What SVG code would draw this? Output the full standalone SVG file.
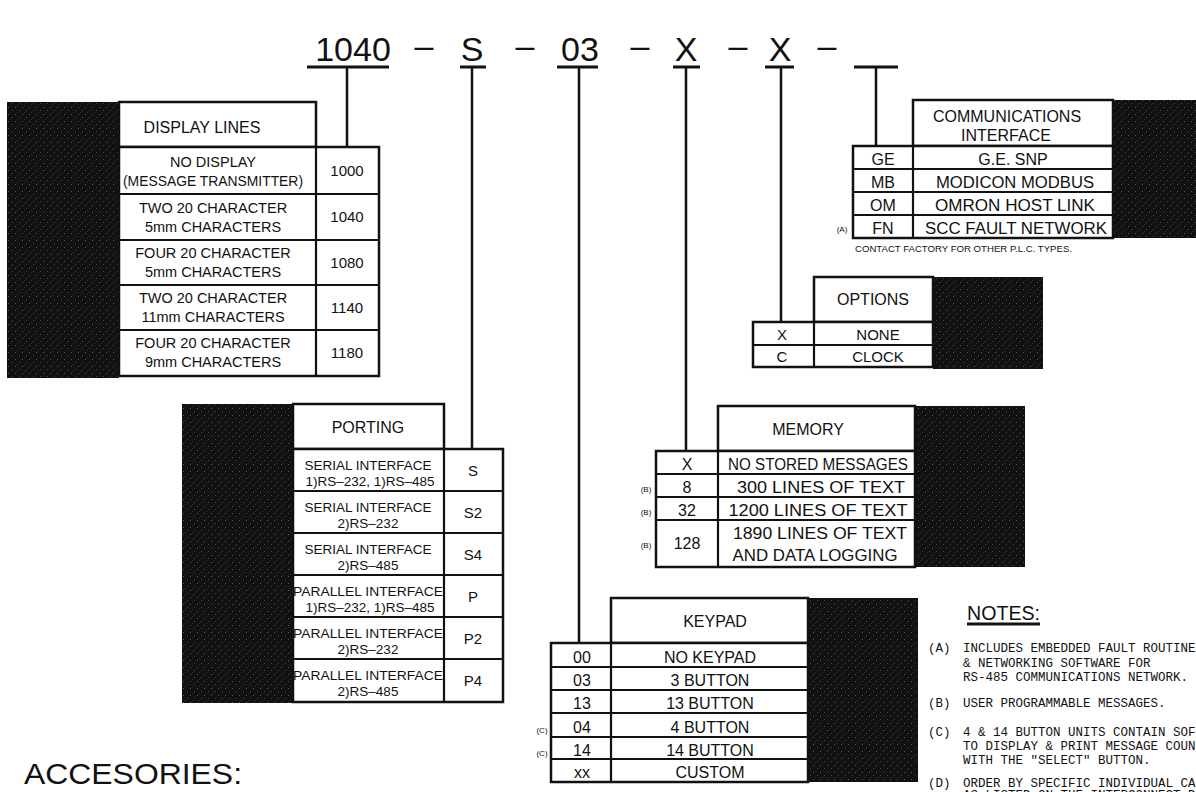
<svg xmlns="http://www.w3.org/2000/svg" width="1196" height="792" viewBox="0 0 1196 792">
<defs>
<pattern id="speck" width="7" height="7" patternUnits="userSpaceOnUse">
<rect width="7" height="7" fill="#111"/>
<rect x="1" y="2" width="1" height="1" fill="#5a5a5a"/>
<rect x="5" y="5" width="1" height="1" fill="#444"/>
<rect x="3" y="0" width="1" height="1" fill="#333"/>
</pattern>
</defs>
<style>
.blk{fill:url(#speck);}
.box{fill:#fff;stroke:#111;stroke-width:2.5;}
.ln{stroke:#111;stroke-width:2.2;fill:none;}
.stem{stroke:#111;stroke-width:2.5;fill:none;}
.ul{stroke:#111;stroke-width:3;}
text{font-family:"Liberation Sans",Arial,sans-serif;fill:#111;}
.t{font-size:15px;text-anchor:middle;}
.td{font-size:14.5px;text-anchor:middle;}
.tp{font-size:13.5px;text-anchor:middle;}
.ttl{font-size:34px;text-anchor:middle;}
.sm{font-size:8px;text-anchor:middle;}
.note{font-family:"Liberation Mono","Courier New",monospace;font-size:12.5px;}
</style>
<rect width="1196" height="792" fill="#fff"/>

<g id="title">
<text class="ttl" x="353" y="61">1040</text>
<text class="ttl" x="424" y="57">–</text>
<text class="ttl" x="472" y="61">S</text>
<text class="ttl" x="525" y="57">–</text>
<text class="ttl" x="580" y="61">03</text>
<text class="ttl" x="640" y="57">–</text>
<text class="ttl" x="686" y="61">X</text>
<text class="ttl" x="738" y="57">–</text>
<text class="ttl" x="780" y="61">X</text>
<text class="ttl" x="827" y="57">–</text>
<line class="ul" x1="307" y1="67" x2="389" y2="67"/>
<line class="ul" x1="460" y1="67" x2="486" y2="67"/>
<line class="ul" x1="557" y1="67" x2="598" y2="67"/>
<line class="ul" x1="673" y1="67" x2="700" y2="67"/>
<line class="ul" x1="765" y1="67" x2="794" y2="67"/>
<line class="ul" x1="854" y1="67" x2="898" y2="67"/>
</g>

<g id="connectors">
<line class="stem" x1="347" y1="67" x2="347" y2="147"/>
<line class="stem" x1="472" y1="67" x2="472" y2="449"/>
<line class="stem" x1="579" y1="67" x2="579" y2="643"/>
<line class="stem" x1="686" y1="67" x2="686" y2="451"/>
<line class="stem" x1="781" y1="67" x2="781" y2="322"/>
<line class="stem" x1="876" y1="67" x2="876" y2="146"/>
</g>

<g id="display-lines">
<rect class="blk" x="7" y="102" width="112" height="276"/>
<rect class="box" x="119" y="102" width="197" height="45"/>
<rect class="box" x="119" y="147" width="260" height="229"/>
<line class="ln" x1="316" y1="147" x2="316" y2="376"/>
<line class="ln" x1="119" y1="194" x2="379" y2="194"/>
<line class="ln" x1="119" y1="240" x2="379" y2="240"/>
<line class="ln" x1="119" y1="285" x2="379" y2="285"/>
<line class="ln" x1="119" y1="330" x2="379" y2="330"/>
<text class="t" x="202" y="133" style="font-size:16px">DISPLAY LINES</text>
<text class="td" x="213" y="167">NO DISPLAY</text>
<text class="td" x="213" y="186" textLength="180" lengthAdjust="spacingAndGlyphs">(MESSAGE TRANSMITTER)</text>
<text class="td" x="213" y="213">TWO 20 CHARACTER</text>
<text class="td" x="213" y="232">5mm CHARACTERS</text>
<text class="td" x="213" y="258">FOUR 20 CHARACTER</text>
<text class="td" x="213" y="277">5mm CHARACTERS</text>
<text class="td" x="213" y="303">TWO 20 CHARACTER</text>
<text class="td" x="213" y="322">11mm CHARACTERS</text>
<text class="td" x="213" y="348">FOUR 20 CHARACTER</text>
<text class="td" x="213" y="367">9mm CHARACTERS</text>
<text class="t" x="347" y="176">1000</text>
<text class="t" x="347" y="222">1040</text>
<text class="t" x="347" y="268">1080</text>
<text class="t" x="347" y="313">1140</text>
<text class="t" x="347" y="358">1180</text>
</g>

<g id="communications">
<rect class="blk" x="1113" y="100" width="90" height="138"/>
<rect class="box" x="913" y="100" width="200" height="46"/>
<rect class="box" x="853" y="146" width="260" height="92"/>
<line class="ln" x1="913" y1="146" x2="913" y2="238"/>
<line class="ln" x1="853" y1="169" x2="1113" y2="169"/>
<line class="ln" x1="853" y1="192" x2="1113" y2="192"/>
<line class="ln" x1="853" y1="215" x2="1113" y2="215"/>
<text class="t" x="1007" y="122" style="font-size:16px">COMMUNICATIONS</text>
<text class="t" x="1006" y="141" style="font-size:16px">INTERFACE</text>
<text class="t" x="883" y="165" style="font-size:16px">GE</text>
<text class="t" x="883" y="188" style="font-size:16px">MB</text>
<text class="t" x="883" y="211" style="font-size:16px">OM</text>
<text class="t" x="883" y="234" style="font-size:16px">FN</text>
<text class="t" x="1013" y="165" style="font-size:16px">G.E. SNP</text>
<text class="t" x="1015" y="188" style="font-size:16px" textLength="158" lengthAdjust="spacingAndGlyphs">MODICON MODBUS</text>
<text class="t" x="1015" y="211" style="font-size:16px" textLength="160" lengthAdjust="spacingAndGlyphs">OMRON HOST LINK</text>
<text class="t" x="1016" y="234" style="font-size:16px" textLength="182" lengthAdjust="spacingAndGlyphs">SCC FAULT NETWORK</text>
<text class="sm" x="842" y="232">(A)</text>
<text x="855" y="252" style="font-size:8.5px" textLength="217" lengthAdjust="spacingAndGlyphs">CONTACT FACTORY FOR OTHER P.L.C. TYPES.</text>
</g>

<g id="options">
<rect class="blk" x="933" y="277" width="110" height="92"/>
<rect class="box" x="814" y="277" width="119" height="45"/>
<rect class="box" x="753" y="322" width="180" height="45"/>
<line class="ln" x1="814" y1="322" x2="814" y2="367"/>
<line class="ln" x1="753" y1="345" x2="933" y2="345"/>
<text class="t" x="873" y="305" style="font-size:16px">OPTIONS</text>
<text class="t" x="782" y="340">X</text>
<text class="t" x="878" y="340">NONE</text>
<text class="t" x="782" y="362">C</text>
<text class="t" x="878" y="362">CLOCK</text>
</g>

<g id="memory">
<rect class="blk" x="915" y="406" width="110" height="161"/>
<rect class="box" x="718" y="406" width="197" height="45"/>
<rect class="box" x="656" y="451" width="259" height="116"/>
<line class="ln" x1="718" y1="451" x2="718" y2="567"/>
<line class="ln" x1="656" y1="474" x2="915" y2="474"/>
<line class="ln" x1="656" y1="497" x2="915" y2="497"/>
<line class="ln" x1="656" y1="520" x2="915" y2="520"/>
<text class="t" x="808" y="435" style="font-size:16px">MEMORY</text>
<text class="t" x="687" y="470" style="font-size:16px">X</text>
<text class="t" x="687" y="493" style="font-size:16px">8</text>
<text class="t" x="687" y="516" style="font-size:16px">32</text>
<text class="t" x="687" y="549" style="font-size:16px">128</text>
<text class="t" x="818" y="470" style="font-size:16px" textLength="180" lengthAdjust="spacingAndGlyphs">NO STORED MESSAGES</text>
<text class="t" x="821" y="493" style="font-size:16px" textLength="168" lengthAdjust="spacingAndGlyphs">300 LINES OF TEXT</text>
<text class="t" x="818" y="516" style="font-size:16px" textLength="179" lengthAdjust="spacingAndGlyphs">1200 LINES OF TEXT</text>
<text class="t" x="820" y="539" style="font-size:16px" textLength="174" lengthAdjust="spacingAndGlyphs">1890 LINES OF TEXT</text>
<text class="t" x="815" y="561" style="font-size:16px" textLength="165" lengthAdjust="spacingAndGlyphs">AND DATA LOGGING</text>
<text class="sm" x="646" y="492">(B)</text>
<text class="sm" x="646" y="515">(B)</text>
<text class="sm" x="646" y="548">(B)</text>
</g>

<g id="porting">
<rect class="blk" x="182" y="404" width="111" height="299"/>
<rect class="box" x="293" y="404" width="151" height="45"/>
<rect class="box" x="293" y="449" width="210" height="253"/>
<line class="ln" x1="444" y1="449" x2="444" y2="702"/>
<line class="ln" x1="293" y1="491" x2="503" y2="491"/>
<line class="ln" x1="293" y1="533" x2="503" y2="533"/>
<line class="ln" x1="293" y1="575" x2="503" y2="575"/>
<line class="ln" x1="293" y1="617" x2="503" y2="617"/>
<line class="ln" x1="293" y1="659" x2="503" y2="659"/>
<text class="t" x="368" y="433" style="font-size:16px">PORTING</text>
<text class="tp" x="368" y="470">SERIAL INTERFACE</text>
<text class="tp" x="370" y="486">1)RS–232, 1)RS–485</text>
<text class="tp" x="368" y="512">SERIAL INTERFACE</text>
<text class="tp" x="368" y="528">2)RS–232</text>
<text class="tp" x="368" y="554">SERIAL INTERFACE</text>
<text class="tp" x="368" y="570">2)RS–485</text>
<text class="tp" x="368" y="596" textLength="150" lengthAdjust="spacingAndGlyphs">PARALLEL INTERFACE</text>
<text class="tp" x="370" y="612">1)RS–232, 1)RS–485</text>
<text class="tp" x="368" y="638" textLength="150" lengthAdjust="spacingAndGlyphs">PARALLEL INTERFACE</text>
<text class="tp" x="368" y="654">2)RS–232</text>
<text class="tp" x="368" y="680" textLength="150" lengthAdjust="spacingAndGlyphs">PARALLEL INTERFACE</text>
<text class="tp" x="368" y="696">2)RS–485</text>
<text class="t" x="473" y="476">S</text>
<text class="t" x="473" y="518">S2</text>
<text class="t" x="473" y="560">S4</text>
<text class="t" x="473" y="602">P</text>
<text class="t" x="473" y="644">P2</text>
<text class="t" x="473" y="686">P4</text>
</g>

<g id="keypad">
<rect class="blk" x="808" y="598" width="110" height="184"/>
<rect class="box" x="611" y="598" width="197" height="45"/>
<rect class="box" x="551" y="643" width="257" height="139"/>
<line class="ln" x1="611" y1="643" x2="611" y2="782"/>
<line class="ln" x1="551" y1="667" x2="808" y2="667"/>
<line class="ln" x1="551" y1="690" x2="808" y2="690"/>
<line class="ln" x1="551" y1="713" x2="808" y2="713"/>
<line class="ln" x1="551" y1="737" x2="808" y2="737"/>
<line class="ln" x1="551" y1="759" x2="808" y2="759"/>
<text class="t" x="715" y="627" style="font-size:16px">KEYPAD</text>
<text class="t" x="582" y="663" style="font-size:16px">00</text>
<text class="t" x="582" y="686" style="font-size:16px">03</text>
<text class="t" x="582" y="709" style="font-size:16px">13</text>
<text class="t" x="582" y="733" style="font-size:16px">04</text>
<text class="t" x="582" y="756" style="font-size:16px">14</text>
<text class="t" x="582" y="778" style="font-size:16px">xx</text>
<text class="t" x="710" y="663" style="font-size:16px">NO KEYPAD</text>
<text class="t" x="710" y="686" style="font-size:16px">3 BUTTON</text>
<text class="t" x="710" y="709" style="font-size:16px">13 BUTTON</text>
<text class="t" x="710" y="733" style="font-size:16px">4 BUTTON</text>
<text class="t" x="710" y="756" style="font-size:16px">14 BUTTON</text>
<text class="t" x="710" y="778" style="font-size:16px">CUSTOM</text>
<text class="sm" x="542" y="733">(C)</text>
<text class="sm" x="542" y="756">(C)</text>
</g>

<g id="notes">
<text x="967" y="620" style="font-size:20px" textLength="73" lengthAdjust="spacingAndGlyphs">NOTES:</text>
<line class="ul" x1="967" y1="624" x2="1040" y2="624"/>
<text class="note" x="928" y="652">(A)</text>
<text class="note" x="963" y="652">INCLUDES EMBEDDED FAULT ROUTINE</text>
<text class="note" x="963" y="667">&amp; NETWORKING SOFTWARE FOR</text>
<text class="note" x="963" y="681">RS-485 COMMUNICATIONS NETWORK.</text>
<text class="note" x="928" y="707">(B)</text>
<text class="note" x="963" y="707">USER PROGRAMMABLE MESSAGES.</text>
<text class="note" x="928" y="736">(C)</text>
<text class="note" x="963" y="736">4 &amp; 14 BUTTON UNITS CONTAIN SOF</text>
<text class="note" x="963" y="750">TO DISPLAY &amp; PRINT MESSAGE COUN</text>
<text class="note" x="963" y="764">WITH THE "SELECT" BUTTON.</text>
<text class="note" x="928" y="787">(D)</text>
<text class="note" x="963" y="787">ORDER BY SPECIFIC INDIVIDUAL CA</text>
<text class="note" x="963" y="799">AS LISTED ON THE INTERCONNECT D</text>
</g>

<g id="accessories">
<text x="24" y="784" style="font-size:29px" textLength="218" lengthAdjust="spacingAndGlyphs">ACCESORIES:</text>
</g>
</svg>
